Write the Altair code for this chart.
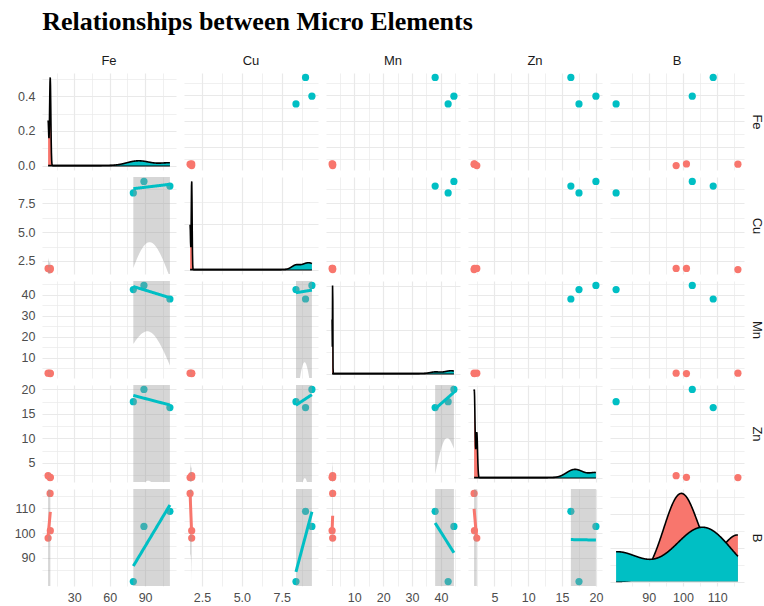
import numpy as np
import pandas as pd
import altair as alt

# Micro-element concentrations for six samples, two sample groups
group = ["Low", "Low", "Low", "High", "High", "High"]
fe = [9.5, 9.7, 7.8, 80.0, 89.0, 111.0]
cu = [1.75, 1.85, 1.85, 8.4, 9.4, 9.0]
mn = [2.5, 2.3, 2.5, 42.5, 44.5, 38.0]
zn = [2.0, 2.05, 2.4, 17.5, 20.0, 16.3]
b = [116.0, 101.0, 98.0, 80.5, 102.7, 108.8]

variables = ["Fe", "Cu", "Mn", "Zn", "B"]
group_order = ["Low", "High"]
group_colors = ["#F8766D", "#00BFC4"]

# labelled breaks for each variable
major_breaks = {
    "Fe": [30, 60, 90],
    "Cu": [2.5, 5.0, 7.5],
    "Mn": [10, 20, 30, 40],
    "Zn": [5, 10, 15, 20],
    "B": [90, 100, 110],
}
label_format = {"Fe": "d", "Cu": ".1f", "Mn": "d", "Zn": "d", "B": "d"}

df = pd.DataFrame({"group": group, "Fe": fe, "Cu": cu, "Mn": mn, "Zn": zn, "B": b})

W, H = 134, 97
GRID = "#e9e9e9"
TEXT = "#4d4d4d"


def expanded(lo, hi, frac=0.05):
    pad = (hi - lo) * frac
    return [lo - pad, hi + pad]


domains = {v: expanded(df[v].min(), df[v].max()) for v in variables}


def grid_values(majors, dom):
    step = majors[1] - majors[0]
    vals = set(majors)
    for k in range(-1, len(majors)):
        vals.add(majors[0] + (k + 0.5) * step)
    return sorted(v for v in vals if dom[0] <= v <= dom[1])


def nice_step(top):
    raw = top / 4.0
    mag = 10 ** np.floor(np.log10(raw))
    for m in (1, 2, 5, 10):
        if m * mag >= raw:
            return m * mag
    return 10 * mag


def bw_nrd0(x):
    x = np.asarray(x, float)
    sd = x.std(ddof=1)
    q75, q25 = np.percentile(x, [75, 25])
    iqr = (q75 - q25) / 1.34
    lo = min(sd, iqr) if iqr > 0 else sd
    return 0.9 * lo * len(x) ** -0.2


def kde(x, grid):
    x = np.asarray(x, float)
    h = bw_nrd0(x)
    z = (grid[:, None] - x[None, :]) / h
    return np.exp(-0.5 * z ** 2).sum(axis=1) / (len(x) * h * np.sqrt(2 * np.pi))


T_975 = {1: 12.7062047}


def lm_band(x, y, n=80):
    x = np.asarray(x, float)
    y = np.asarray(y, float)
    xs = np.linspace(x.min(), x.max(), n)
    dx = x - x.mean()
    sxx = (dx ** 2).sum()
    slope = (dx * (y - y.mean())).sum() / sxx
    icpt = y.mean() - slope * x.mean()
    fit = icpt + slope * xs
    resid = y - (icpt + slope * x)
    dof = len(x) - 2
    s = np.sqrt((resid ** 2).sum() / dof)
    se = s * np.sqrt(1.0 / len(x) + (xs - x.mean()) ** 2 / sxx)
    t = T_975[dof]
    return xs, fit, fit - t * se, fit + t * se


def in_list(vals):
    return "indexof([" + ",".join(repr(float(v)) for v in vals) + "], datum.value) >= 0"


def make_axis(majors, gvals, fmt, show_labels, orient, title=None):
    test = in_list(majors)
    kw = dict(
        values=gvals,
        grid=True,
        gridColor=GRID,
        gridWidth={"condition": {"test": test, "value": 1.2}, "value": 0.7},
        ticks=False,
        domain=False,
        labels=show_labels,
        labelOverlap=False,
        labelFlush=False,
        labelColor=TEXT,
        labelFontSize=12.5,
        labelFont="Liberation Sans",
        orient=orient,
        title=title,
    )
    if show_labels:
        kw["labelExpr"] = f"{test} ? format(datum.value, '{fmt}') : ''"
        kw["labelPadding"] = 7 if orient == "left" else 5
    if title is not None:
        kw.update(titleAngle=90, titleFontWeight="normal", titleFontSize=13,
                  titleColor="#1a1a1a", titleFont="Liberation Sans", titlePadding=5,
                  titleBaseline="bottom")
    return alt.Axis(**kw)


color_enc = alt.Color("group:N", scale=alt.Scale(domain=group_order, range=group_colors), legend=None)

panels = []
for i, yv in enumerate(variables):
    for j, xv in enumerate(variables):
        xdom = domains[xv]
        xaxis = make_axis(major_breaks[xv], grid_values(major_breaks[xv], xdom),
                          label_format[xv], i == 4, "bottom")

        def X(field):
            return alt.X(f"{field}:Q", scale=alt.Scale(domain=xdom, nice=False, zero=False), axis=xaxis)

        if i == j:
            # density of the variable for each group, evaluated over the full range
            grid = np.linspace(df[xv].min(), df[xv].max(), 512)
            parts = []
            for g in group_order:
                d = kde(df.loc[df.group == g, xv], grid)
                parts.append(pd.DataFrame({"x": grid, "density": d, "zero": 0.0, "group": g}))
            dens = pd.concat(parts, ignore_index=True)
            top = dens.density.max()
            ydom = [-0.05 * top, 1.05 * top]
            step = nice_step(top)
            ymaj = [round(k * step, 10) for k in range(int(top // step) + 1)]
            ymaj = ymaj if len(ymaj) > 1 else [0.0, step]
            yaxis_vals = grid_values(ymaj, ydom)
            ylab = j == 0
            yaxis = make_axis(ymaj, yaxis_vals, ".1f", ylab,
                              "right" if j == 4 else "left", yv if j == 4 else None)

            def Y(field):
                return alt.Y(f"{field}:Q", scale=alt.Scale(domain=ydom, nice=False, zero=False), axis=yaxis)

            layers = []
            for g, c in zip(group_order, group_colors):
                sub = dens[dens.group == g]
                layers.append(alt.Chart(sub).mark_area(color=c, opacity=1).encode(
                    x=X("x"), y=Y("density"), y2="zero:Q"))
                layers.append(alt.Chart(sub).mark_line(color="black", strokeWidth=1.6).encode(
                    x=X("x"), y=Y("density")))
            panel = alt.layer(*layers)
        else:
            ydom = domains[yv]
            yaxis = make_axis(major_breaks[yv], grid_values(major_breaks[yv], ydom),
                              label_format[yv], j == 0,
                              "right" if j == 4 else "left", yv if j == 4 else None)

            def Y(field):
                return alt.Y(f"{field}:Q", scale=alt.Scale(domain=ydom, nice=False, zero=False), axis=yaxis)

            pts = alt.Chart(df).mark_circle(size=52, opacity=1).encode(
                x=X(xv), y=Y(yv), color=color_enc)
            layers = [pts]
            if i > j:
                # linear fit with 95% confidence band per group
                for g, c in zip(group_order, group_colors):
                    sub = df[df.group == g]
                    xs, fit, lo, hi = lm_band(sub[xv], sub[yv])
                    sm = pd.DataFrame({"x": xs, "fit": fit, "lo": lo, "hi": hi})
                    layers.append(alt.Chart(sm).mark_area(color="#999999", opacity=0.4, clip=True).encode(
                        x=X("x"), y=Y("lo"), y2="hi:Q"))
                    layers.append(alt.Chart(sm).mark_line(color=c, strokeWidth=3, clip=True).encode(
                        x=X("x"), y=Y("fit")))
            panel = alt.layer(*layers)

        props = dict(width=W, height=H)
        if i == 0:
            props["title"] = alt.TitleParams(xv, fontSize=13, fontWeight="normal", color="#1a1a1a",
                                             font="Liberation Sans", anchor="middle", offset=5)
        panels.append(panel.properties(**props))

chart = alt.concat(
    *panels,
    columns=5,
    spacing={"row": 7, "column": 8},
    bounds="flush",
    title=alt.TitleParams(
        "Relationships between Micro Elements",
        font="Liberation Serif",
        fontSize=26,
        fontWeight="bold",
        color="black",
        anchor="start",
        dx=28,
        offset=20,
    ),
).resolve_scale(x="independent", y="independent", color="shared").resolve_axis(
    x="independent", y="independent"
).properties(
    padding={"left": 14, "top": 9, "right": 2, "bottom": 1},
    background="white",
).configure_view(stroke=None)

chart.save("out.html", embed_options={"renderer": "svg", "actions": False})
